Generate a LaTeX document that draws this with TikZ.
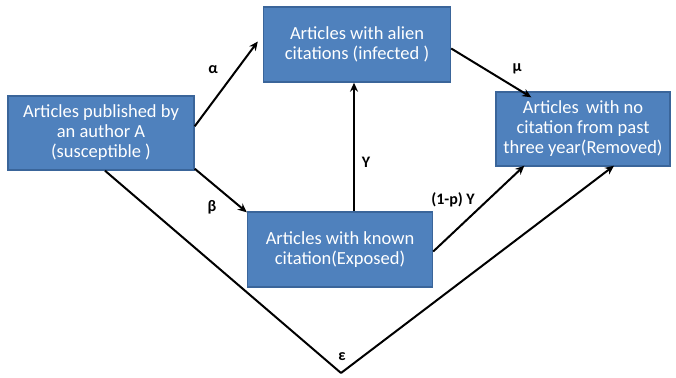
\documentclass[tikz,border=0pt]{standalone}
\usepackage{fontspec}
\setmainfont{Carlito}
\usetikzlibrary{arrows.meta,calc}
\definecolor{boxfill}{HTML}{4F81BD}
\definecolor{boxedge}{HTML}{3A659A}
\begin{document}
\begin{tikzpicture}[x=1pt,y=-1pt,
  box/.style={draw=boxedge,line width=1.4pt,fill=boxfill,text=white,align=center,
    minimum width=#1,inner sep=1pt,font=\fontsize{18.5}{20}\selectfont},
  box/.default=186pt,
  conn/.style={line width=2pt,-{Stealth[length=9pt,width=8pt]}},
  plain/.style={line width=2pt},
  lbl/.style={font=\fontsize{16}{18}\selectfont\bfseries,inner sep=1pt}]
\useasboundingbox (0,0) rectangle (676,377);
\node[box=186pt,minimum height=74pt] (S) at (101,133) {Articles published by\\an author A\\(susceptible )};
\node[box=187pt,minimum height=75pt] (I) at (357,44.5) {Articles with alien\\citations (infected )};
\node[box=174pt,minimum height=74pt] (R) at (583,129) {Articles\, with no\\citation from past\\three year(Removed)};
\node[box=185pt,minimum height=75pt] (E) at (340,249.5) {Articles with known\\citation(Exposed)};
\coordinate (V) at (341,373);
\draw[conn] ([yshift=-31pt]S.north east) -- ([xshift=-5pt,yshift=3pt]I.west);
\draw[conn] ([yshift=2pt]S.south east) -- ([yshift=-1pt]E.north west);
\draw[conn] ([xshift=14pt]E.north) -- ([xshift=14pt]E.north |- I.south);
\draw[conn] ([yshift=-2pt]E.east) -- ([xshift=29pt,yshift=1pt]R.south west);
\draw[conn] ([yshift=-4pt]I.east) -- ([xshift=36pt,yshift=-6pt]R.north west);
\draw[plain] ([xshift=4pt]S.south) -- (V);
\draw[conn] (V) -- ([xshift=31pt,yshift=1pt]R.south);
\node[lbl] (la) at (213,70) {α};
\node[lbl] (lb) at (212,207) {β};
\node[lbl] (lg) at (366,162) {Υ};
\node[lbl] (lp) at (453,200) {(1-p) Υ};
\node[lbl] (lm) at (517,69) {μ};
\node[lbl] (eps) at (342,357) {ε};
\end{tikzpicture}
\end{document}
